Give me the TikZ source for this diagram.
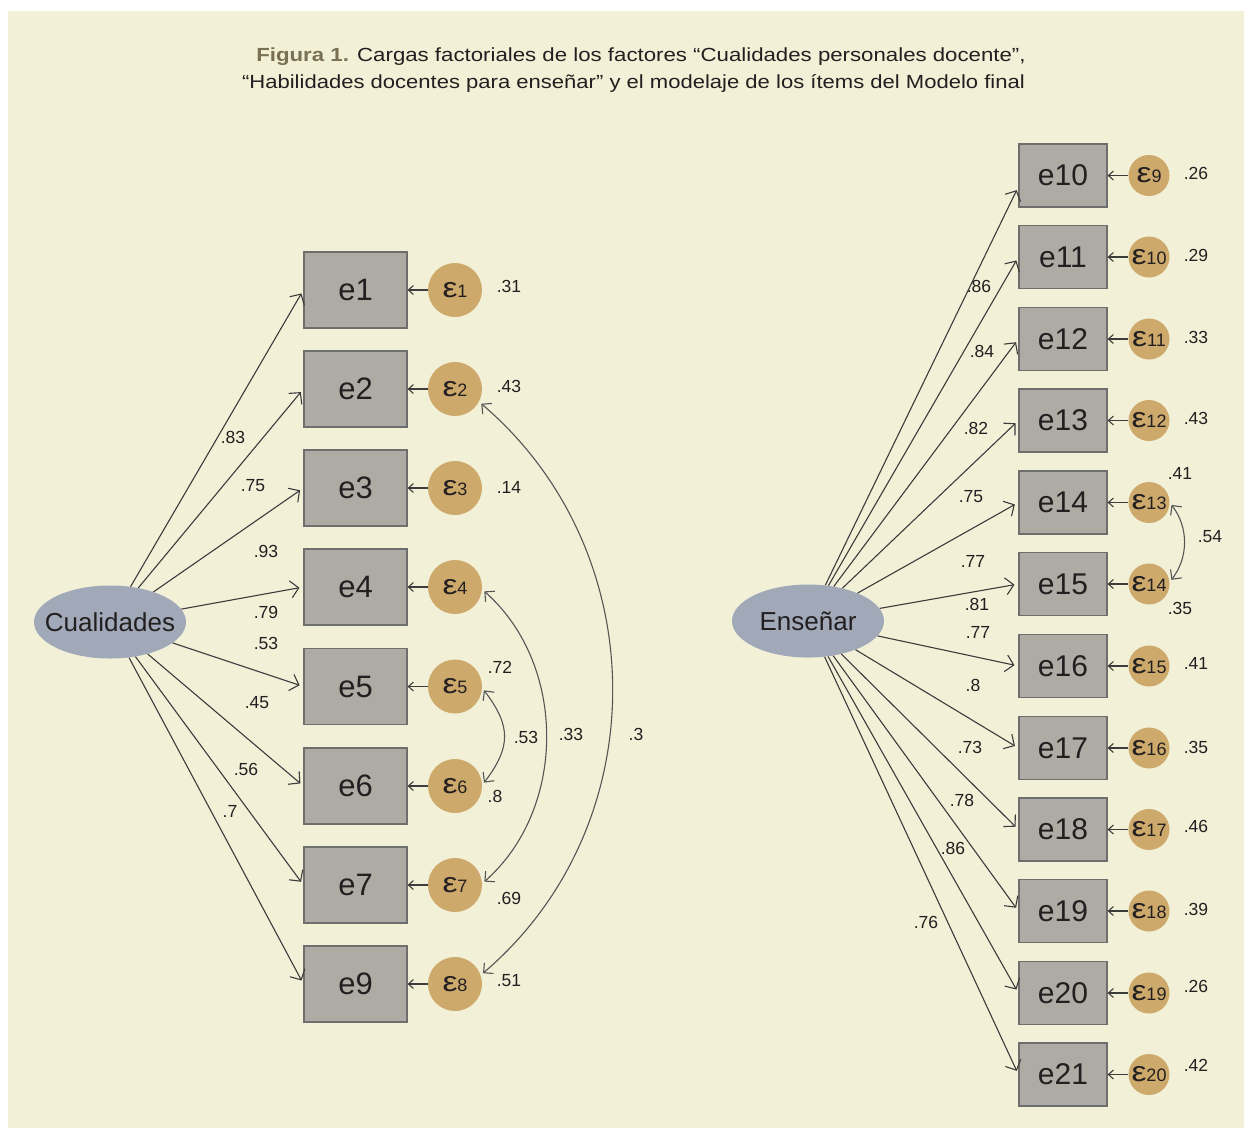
\documentclass[tikz,border=0pt]{standalone}
\usepackage{fontspec}
\setmainfont{Liberation Sans}
\usetikzlibrary{shapes.geometric,arrows.meta}
\definecolor{bgc}{HTML}{F2F0D7}
\definecolor{boxfill}{HTML}{AEABA5}
\definecolor{boxline}{HTML}{6E6E6E}
\definecolor{errfill}{HTML}{CDAA6C}
\definecolor{latfill}{HTML}{A1A9B8}
\definecolor{ink}{HTML}{231F20}
\definecolor{lineclr}{HTML}{3C3C3C}
\definecolor{covclr}{HTML}{555555}
\definecolor{titlebold}{HTML}{7A7155}
\newcommand\myfs[1]{\fontsize{#1}{#1}\selectfont}
\newcommand\epsi[1]{{\myfs{28}\scalebox{1.2}[1]{ε}}{\myfs{18}#1}}
\begin{document}
\begin{tikzpicture}[x=1pt,y=-1pt,
  itemL/.style={rectangle,draw=boxline,fill=boxfill,line width=1.2pt,minimum width=103pt,minimum height=76pt,inner sep=0pt,text=ink,font=\myfs{31}},
  itemR/.style={rectangle,draw=boxline,fill=boxfill,line width=1.2pt,minimum width=88pt,minimum height=63pt,inner sep=0pt,text=ink,font=\myfs{30}},
  errL/.style={circle,fill=errfill,minimum size=54pt,inner sep=0pt,text=ink},
  errR/.style={circle,fill=errfill,minimum size=41pt,inner sep=0pt,text=ink},
  lat/.style={ellipse,fill=latfill,minimum width=152pt,minimum height=73pt,inner sep=0pt,text=ink,font=\myfs{26}},
  val/.style={text=ink,font=\myfs{17.5},inner sep=0pt},
  ttl/.style={text=ink,font=\myfs{19},inner sep=0pt},
  load/.style={draw=lineclr,line width=1.1pt,shorten >=4pt,-{Straight Barb[length=8pt,width=17pt]}},
  errarrow/.style={draw=lineclr,line width=1.1pt,-{Straight Barb[length=5pt,width=9pt]}},
  cov/.style={draw=covclr,line width=1.1pt,shorten >=3pt,shorten <=3pt,{Straight Barb[length=7pt,width=14pt]}-{Straight Barb[length=7pt,width=14pt]}}
]
\useasboundingbox (0,0) rectangle (1244,1128);
\fill[white] (0,0) rectangle (1244,1128);
\fill[bgc] (8,11) rectangle (1244,1128);

\node[ttl] (title1) at (641,57)
  {\scalebox{1.17}[1]{\textbf{\color{titlebold}Figura 1.} Cargas factoriales de los factores “Cualidades personales docente”,}};
\node[ttl] (title2) at (633.5,83)
  {\scalebox{1.16}[1]{“Habilidades docentes para enseñar” y el modelaje de los ítems del Modelo final}};

% Left latent
\node[lat] (cual) at (110,622) {\makebox[0pt]{Cualidades}};
% Left items
\foreach \n/\y in {1/290,2/389,3/488,4/587,5/686.5,6/786,7/885,9/984}{
  \node[itemL] (e\n) at (355.5,\y) {e\n};
}
\foreach \n/\m/\y in {1/1/290,2/2/389,3/3/488,4/4/587,5/5/686.5,6/6/786,7/7/885,9/8/984}{
  \node[errL] (eps\m) at (455,\y) {\epsi{\m}};
  \draw[errarrow] (eps\m) -- (e\n);
}
\foreach \n in {1,2,3,4,5,6,7,9}{
  \draw[load] (cual) -- (e\n.west);
}
% left loading labels
\node[val] (l1) at (233,437) {.83};
\node[val] (l2) at (253,486) {.75};
\node[val] (l3) at (266,551) {.93};
\node[val] (l4) at (266,612) {.79};
\node[val] (l5) at (266,643) {.53};
\node[val] (l6) at (257,703) {.45};
\node[val] (l7) at (246,769) {.56};
\node[val] (l9) at (230,811) {.7};
% left variances
\node[val] (v1) at (509,286) {.31};
\node[val] (v2) at (509,386) {.43};
\node[val] (v3) at (509,487) {.14};
\node[val] (v5) at (500,667) {.72};
\node[val] (v6) at (495,796) {.8};
\node[val] (v7) at (509,898) {.69};
\node[val] (v8) at (509,981) {.51};
% left covariances
\draw[cov] (eps2.-28) .. controls +(176,150) and +(176,-150) .. (eps8.19);
\draw[cov] (eps4.-5) .. controls +(85,75) and +(85,-75) .. (eps7.3);
\draw[cov] (eps5.-3) .. controls +(29,38) and +(29,-38) .. (eps6.2);
\node[val] (c56) at (526,737) {.53};
\node[val] (c47) at (571,734) {.33};
\node[val] (c28) at (636,734) {.3};

% Right latent
\node[lat] (ens) at (808,621) {\makebox[0pt]{Enseñar}};
\foreach \n/\m/\y in {10/9/175.5,11/10/257,12/11/339,13/12/420.5,14/13/502.5,15/14/584,16/15/666,17/16/748,18/17/829.5,19/18/911,20/19/993,21/20/1074.5}{
  \node[itemR] (e\n) at (1063,\y) {e\n};
  \node[errR] (eps\m) at (1149,\y) {\epsi{\m}};
  \draw[errarrow] (eps\m) -- (e\n);
}
\draw[load] (ens) -- ([yshift=-11pt]e10.west);
\foreach \n in {11,12,13,14,15,16,17,18,19,20,21}{
  \draw[load] (ens) -- (e\n.west);
}
% right loading labels
\node[val] (r10) at (979,286) {.86};
\node[val] (r11) at (982,351) {.84};
\node[val] (r12) at (976,428) {.82};
\node[val] (r13) at (971,497) {.75};
\node[val] (r14) at (973,561) {.77};
\node[val] (r15) at (977,604) {.81};
\node[val] (r16) at (978,632) {.77};
\node[val] (r17) at (973,685) {.8};
\node[val] (r18) at (970,747) {.73};
\node[val] (r19) at (962,800) {.78};
\node[val] (r20) at (953,848) {.86};
\node[val] (r21) at (926,922) {.76};
% right variances
\node[val] (w9) at (1196,173) {.26};
\node[val] (w10) at (1196,255) {.29};
\node[val] (w11) at (1196,337) {.33};
\node[val] (w12) at (1196,418) {.43};
\node[val] (w13) at (1180,473) {.41};
\node[val] (w14) at (1180,608) {.35};
\node[val] (w15) at (1196,663) {.41};
\node[val] (w16) at (1196,747) {.35};
\node[val] (w17) at (1196,826) {.46};
\node[val] (w18) at (1196,909) {.39};
\node[val] (w19) at (1196,986) {.26};
\node[val] (w20) at (1196,1065) {.42};
\draw[cov] (eps13.0) .. controls +(19,25) and +(19,-25) .. (eps14.5);
\node[val] (c1314) at (1210,537) {.54};
\end{tikzpicture}
\end{document}
